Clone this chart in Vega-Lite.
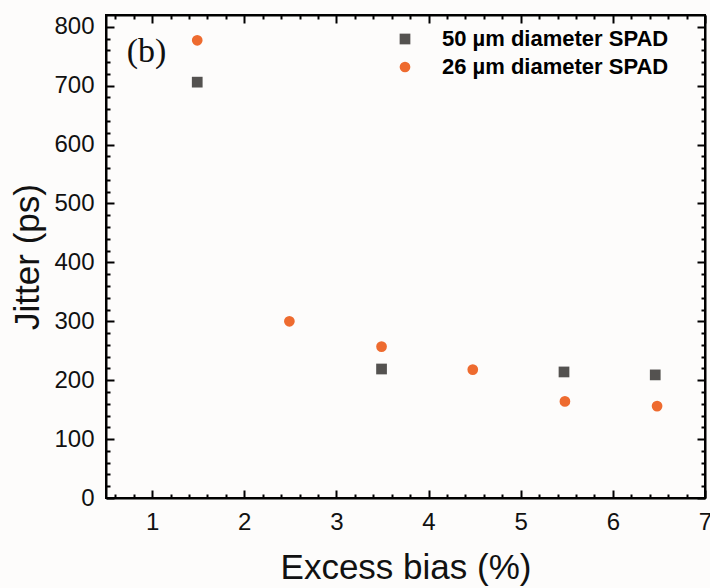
{
  "$schema": "https://vega.github.io/schema/vega-lite/v6.json",
  "width": 599,
  "height": 483,
  "autosize": "none",
  "padding": {"left": 106, "top": 15, "right": 5, "bottom": 90},
  "background": "#fdfcfb",
  "config": {
    "view": {"stroke": "black", "strokeWidth": 2},
    "font": "Liberation Sans"
  },
  "layer": [
    {
      "data": {
        "values": [
          {"series": "50 µm diameter SPAD", "bias": 1.49, "jitter": 706},
          {"series": "50 µm diameter SPAD", "bias": 3.49, "jitter": 219},
          {"series": "50 µm diameter SPAD", "bias": 5.47, "jitter": 214},
          {"series": "50 µm diameter SPAD", "bias": 6.46, "jitter": 209},
          {"series": "26 µm diameter SPAD", "bias": 1.49, "jitter": 777},
          {"series": "26 µm diameter SPAD", "bias": 2.49, "jitter": 300},
          {"series": "26 µm diameter SPAD", "bias": 3.49, "jitter": 257},
          {"series": "26 µm diameter SPAD", "bias": 4.48, "jitter": 218},
          {"series": "26 µm diameter SPAD", "bias": 5.48, "jitter": 164},
          {"series": "26 µm diameter SPAD", "bias": 6.48, "jitter": 156}
        ]
      },
      "mark": {"type": "point", "filled": true, "opacity": 1, "size": 115},
      "encoding": {
        "x": {
          "field": "bias", "type": "quantitative",
          "scale": {"domain": [0.5, 7], "nice": false, "zero": false},
          "axis": {
            "orient": "bottom",
            "values": [0.6,0.8,1,1.2,1.4,1.6,1.8,2,2.2,2.4,2.6,2.8,3,3.2,3.4,3.6,3.8,4,4.2,4.4,4.6,4.8,5,5.2,5.4,5.6,5.8,6,6.2,6.4,6.6,6.8,7],
            "labelExpr": "abs(datum.value - round(datum.value)) < 1e-6 ? format(datum.value, 'd') : ''",
            "tickSize": {"condition": {"test": "abs(datum.value - round(datum.value)) < 1e-6", "value": -8}, "value": -4},
            "tickWidth": 2, "tickColor": "black",
            "domainColor": "black", "domainWidth": 2,
            "grid": false,
            "labelFontSize": 24, "labelColor": "#111", "labelPadding": 20,
            "labelFlush": false, "labelOverlap": false,
            "title": "Excess bias (%)", "titleFontSize": 35, "titleFontWeight": "normal",
            "titleColor": "#111", "titlePadding": 12
          }
        },
        "y": {
          "field": "jitter", "type": "quantitative",
          "scale": {"domain": [0, 820], "nice": false},
          "axis": {
            "orient": "left",
            "values": [0,20,40,60,80,100,120,140,160,180,200,220,240,260,280,300,320,340,360,380,400,420,440,460,480,500,520,540,560,580,600,620,640,660,680,700,720,740,760,780,800],
            "labelExpr": "datum.value % 100 === 0 ? format(datum.value, 'd') : ''",
            "tickSize": {"condition": {"test": "datum.value % 100 === 0", "value": -8}, "value": -4},
            "tickWidth": 2, "tickColor": "black",
            "domainColor": "black", "domainWidth": 2,
            "grid": false,
            "labelFontSize": 24, "labelColor": "#111", "labelPadding": 20,
            "labelFlush": false, "labelOverlap": false,
            "title": "Jitter (ps)", "titleFontSize": 35, "titleFontWeight": "normal",
            "titleColor": "#111", "titlePadding": 8
          }
        },
        "color": {
          "field": "series", "type": "nominal",
          "scale": {"domain": ["50 µm diameter SPAD", "26 µm diameter SPAD"], "range": ["#545250", "#EE6B2F"]},
          "legend": {
            "orient": "none", "legendX": 288, "legendY": 13, "title": null,
            "padding": 0, "labelFontSize": 22, "labelFontWeight": "bold", "labelLimit": 0,
            "symbolSize": 115, "rowPadding": 6, "labelOffset": 26,
            "symbolStrokeWidth": 0,
            "encode": {"labels": {"update": {"fill": {"signal": "datum.value === '26 µm diameter SPAD' ? '#EE6B2F' : '#111111'"}}}}
          }
        },
        "shape": {
          "field": "series", "type": "nominal",
          "scale": {"domain": ["50 µm diameter SPAD", "26 µm diameter SPAD"], "range": ["square", "circle"]}
        }
      }
    },
    {
      "data": {"values": [{"label": "(b)", "bx": 0.94, "by": 758}]},
      "mark": {"type": "text", "font": "Liberation Serif", "fontSize": 34, "baseline": "middle", "align": "center", "color": "#111"},
      "encoding": {
        "x": {
          "field": "bx", "type": "quantitative",
          "axis": {
            "orient": "top",
            "values": [0.6,0.8,1,1.2,1.4,1.6,1.8,2,2.2,2.4,2.6,2.8,3,3.2,3.4,3.6,3.8,4,4.2,4.4,4.6,4.8,5,5.2,5.4,5.6,5.8,6,6.2,6.4,6.6,6.8,7],
            "labels": false, "title": null, "grid": false,
            "tickSize": {"condition": {"test": "abs(datum.value - round(datum.value)) < 1e-6", "value": -8}, "value": -4},
            "tickWidth": 2, "tickColor": "black", "domainColor": "black", "domainWidth": 2
          }
        },
        "y": {
          "field": "by", "type": "quantitative",
          "axis": {
            "orient": "right",
            "values": [0,20,40,60,80,100,120,140,160,180,200,220,240,260,280,300,320,340,360,380,400,420,440,460,480,500,520,540,560,580,600,620,640,660,680,700,720,740,760,780,800],
            "labels": false, "title": null, "grid": false,
            "tickSize": {"condition": {"test": "datum.value % 100 === 0", "value": -8}, "value": -4},
            "tickWidth": 2, "tickColor": "black", "domainColor": "black", "domainWidth": 2
          }
        },
        "text": {"field": "label"}
      }
    }
  ],
  "resolve": {"axis": {"x": "independent", "y": "independent"}}
}
